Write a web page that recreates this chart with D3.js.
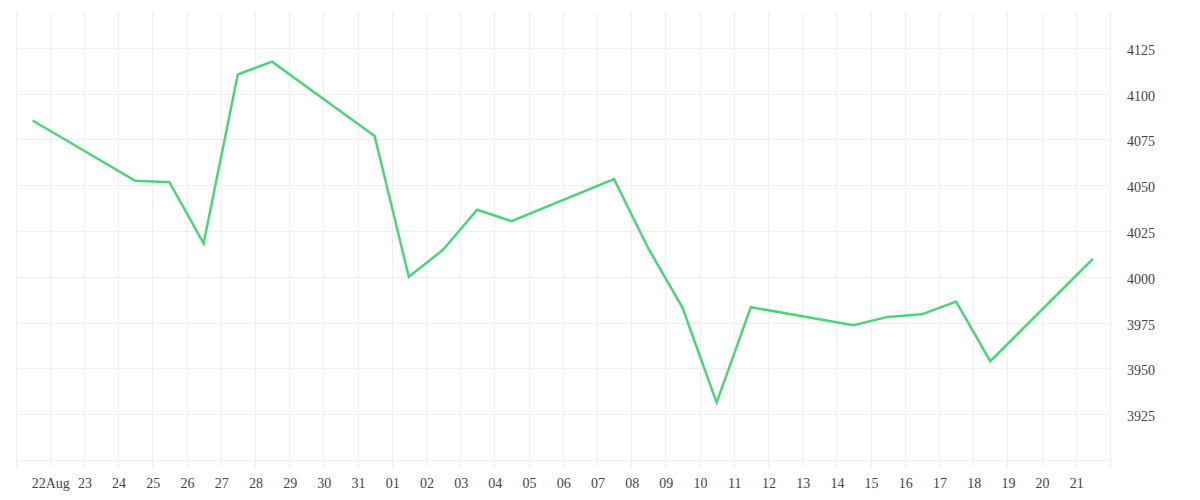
<!DOCTYPE html>
<html>
<head>
<meta charset="utf-8">
<script src="https://cdn.jsdelivr.net/npm/d3@7"></script>
<style>
  html, body { margin: 0; padding: 0; background: #fff; }
  svg { display: block; }
  text { font-family: "Liberation Serif", serif; font-size: 14px; fill: #444; }
</style>
</head>
<body>
<svg id="chart" width="1200" height="500"></svg>
<script>
// ---- data ----
const dates = [
  "2020-08-21", "2020-08-24", "2020-08-25", "2020-08-26", "2020-08-27", "2020-08-28",
  "2020-08-31", "2020-09-01", "2020-09-02", "2020-09-03", "2020-09-04",
  "2020-09-07", "2020-09-08", "2020-09-09", "2020-09-10", "2020-09-11",
  "2020-09-14", "2020-09-15", "2020-09-16", "2020-09-17", "2020-09-18",
  "2020-09-21"
];
const closeValues = [
  4085.3, 4052.4, 4051.6, 4018.2, 4110.4, 4117.4,
  4076.8, 4000.0, 4014.7, 4036.6, 4030.4,
  4053.3, 4015.6, 3983.2, 3931.3, 3983.4,
  3973.6, 3978.1, 3979.5, 3986.5, 3953.9,
  4009.8
];
const xTickLabels = [
  "", "22Aug", "23", "24", "25", "26", "27", "28", "29", "30", "31",
  "01", "02", "03", "04", "05", "06", "07", "08", "09", "10",
  "11", "12", "13", "14", "15", "16", "17", "18", "19", "20", "21", ""
];
const yTickValues = [3925, 3950, 3975, 4000, 4025, 4050, 4075, 4100, 4125];
const yGridValues = [3900, 3925, 3950, 3975, 4000, 4025, 4050, 4075, 4100, 4125];

// ---- layout ----
const plotLeft = 15.5, plotRight = 1110, plotTop = 12, plotBottom = 460;
const svg = d3.select("#chart");

const parseDay = d3.timeParse("%Y-%m-%d");
const points = dates.map((d, i) => ({ date: d3.timeHour.offset(parseDay(d), 12), value: closeValues[i] }));

const start = parseDay("2020-08-21");
const end = parseDay("2020-09-22");
const x = d3.scaleTime().domain([start, end]).range([plotLeft, plotRight]);
const y = d3.scaleLinear().domain([3900, 4144.5]).range([plotBottom, plotTop]);

const dayTicks = d3.timeDay.range(start, d3.timeDay.offset(end, 1));

// vertical grid + ticks
svg.append("g")
  .selectAll("line")
  .data(dayTicks)
  .join("line")
  .attr("x1", d => Math.round(x(d)) + 0.5)
  .attr("x2", d => Math.round(x(d)) + 0.5)
  .attr("y1", plotTop)
  .attr("y2", 468)
  .attr("stroke", "#eeeeee")
  .attr("stroke-width", 1);

// horizontal grid
svg.append("g")
  .selectAll("line")
  .data(yGridValues)
  .join("line")
  .attr("x1", plotLeft)
  .attr("x2", plotRight)
  .attr("y1", d => Math.round(y(d)) + 0.5)
  .attr("y2", d => Math.round(y(d)) + 0.5)
  .attr("stroke", "#eeeeee")
  .attr("stroke-width", 1);

// x labels
svg.append("g")
  .selectAll("text")
  .data(dayTicks)
  .join("text")
  .attr("x", d => x(d) + 1)
  .attr("y", 487.5)
  .attr("text-anchor", "middle")
  .text((d, i) => xTickLabels[i] || "");

// y labels
svg.append("g")
  .selectAll("text")
  .data(yTickValues)
  .join("text")
  .attr("x", 1127)
  .attr("y", d => y(d) + 7)
  .attr("text-anchor", "start")
  .text(d => d);

// line
const line = d3.line().x(d => x(d.date)).y(d => y(d.value));
svg.append("path")
  .datum(points)
  .attr("d", line)
  .attr("fill", "none")
  .attr("stroke", "#4cd47b")
  .attr("stroke-width", 2.5)
  .attr("stroke-linejoin", "miter");
</script>
</body>
</html>
